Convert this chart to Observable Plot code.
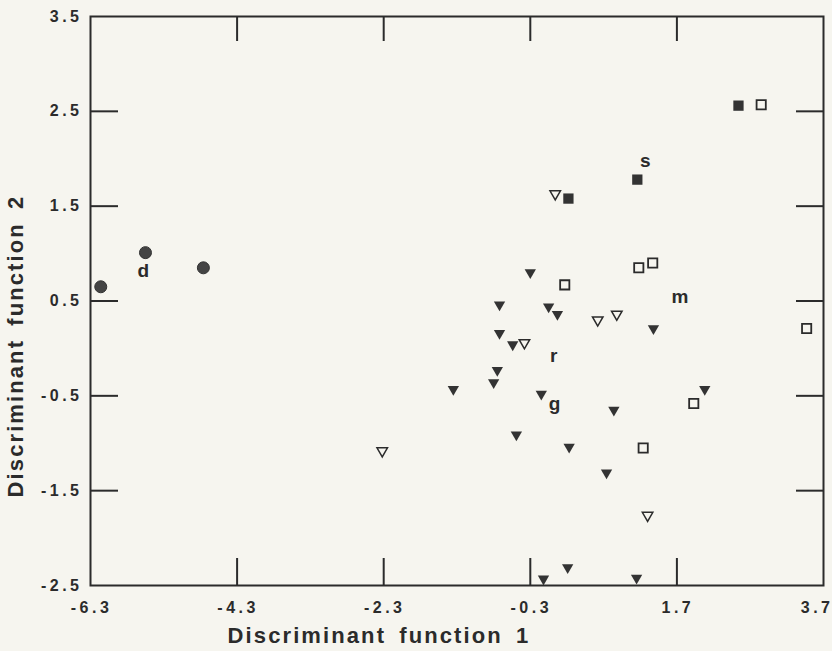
<!DOCTYPE html>
<html>
<head>
<meta charset="utf-8">
<script src="https://cdn.jsdelivr.net/npm/d3@7"></script>
<script src="https://cdn.jsdelivr.net/npm/@observablehq/plot@0.6"></script>
<style>
  html, body { margin: 0; padding: 0; background: #f6f5ef; }
  .ticklab text { letter-spacing: 3.5px; }
  .title text { letter-spacing: 2.1px; word-spacing: 5px; }
</style>
</head>
<body>
<div id="chart"></div>
<script>
// Tick values
const xTickLabels = [-6.3, -4.3, -2.3, -0.3, 1.7];
const xLastTickLabel = [3.7];
const yTickLabels = [-2.5, -1.5, -0.5, 0.5, 1.5, 2.5, 3.5];
const xInnerTicks = [-4.3, -2.3, -0.3, 1.7];
const yInnerTicks = [-1.5, -0.5, 0.5, 1.5, 2.5];

// Groups: [function1, function2]
const circles = [[-6.16, 0.65], [-5.55, 1.01], [-4.76, 0.85]];
const filledSquares = [[2.54, 2.56], [1.16, 1.78], [0.22, 1.58]];
const openSquares = [[2.85, 2.57], [1.18, 0.85], [1.37, 0.90], [0.17, 0.67], [3.47, 0.21], [1.93, -0.58], [1.24, -1.05]];
const openTriangles = [[0.04, 1.63], [0.62, 0.30], [0.88, 0.36], [-0.38, 0.06], [-2.32, -1.08], [1.30, -1.76]];
const filledTriangles = [[-0.30, 0.80], [-0.72, 0.46], [-0.05, 0.44], [0.07, 0.36], [1.38, 0.21], [-0.72, 0.16],
  [-0.54, 0.04], [-0.75, -0.23], [-0.80, -0.36], [-1.35, -0.43], [-0.15, -0.48], [2.08, -0.43], [0.84, -0.65],
  [-0.49, -0.91], [0.23, -1.04], [0.74, -1.31], [-0.12, -2.43], [0.21, -2.31], [1.15, -2.42]];
const groupLabels = ["d", "s", "m", "r", "g"];
const groupLabelX = [-5.58, 1.27, 1.74, 0.02, 0.03];
const groupLabelY = [0.82, 1.98, 0.54, -0.08, -0.59];

const ink = "#2b2b2b";
const bg = "#f6f5ef";
const font = "'Liberation Sans', Arial, Helvetica, sans-serif";

const labelData = groupLabels.map((t, i) => ({t, x: groupLabelX[i], y: groupLabelY[i]}));
const tickText = {fontSize: 16, fontWeight: "bold", fill: ink, className: "ticklab"};

const chart = Plot.plot({
  width: 832,
  height: 651,
  marginLeft: 90,
  marginRight: 9,
  marginTop: 16,
  marginBottom: 66,
  x: {domain: [-6.3, 3.7]},
  y: {domain: [-2.5, 3.5]},
  style: {background: bg, fontFamily: font, color: ink},
  marks: [
    Plot.frame({stroke: ink, strokeWidth: 2}),
    // inward tick marks on all four sides
    Plot.axisX(xInnerTicks, {anchor: "bottom", tickSize: -27, strokeWidth: 2, stroke: ink, tickFormat: () => "", label: null}),
    Plot.axisX(xInnerTicks, {anchor: "top", tickSize: -24, strokeWidth: 2, stroke: ink, tickFormat: () => "", label: null}),
    Plot.axisY(yInnerTicks, {anchor: "left", tickSize: -28, strokeWidth: 2, stroke: ink, tickFormat: () => "", label: null}),
    Plot.axisY(yInnerTicks, {anchor: "right", tickSize: -28, strokeWidth: 2, stroke: ink, tickFormat: () => "", label: null}),
    // tick labels
    Plot.text(xTickLabels, {x: d => d, frameAnchor: "bottom", dy: 27, dx: 1, text: d => d.toFixed(1), ...tickText}),
    Plot.text(xLastTickLabel, {x: d => d, frameAnchor: "bottom", dy: 27, dx: 10, textAnchor: "end", text: d => d.toFixed(1), ...tickText}),
    Plot.text(yTickLabels, {y: d => d, frameAnchor: "left", dx: -8, textAnchor: "end", text: d => d.toFixed(1), ...tickText}),
    // axis titles
    Plot.text(["Discriminant function 1"], {frameAnchor: "bottom", dx: -78, dy: 57, text: d => d,
      fontSize: 22, fontWeight: "bold", fill: ink, className: "title"}),
    Plot.text(["Discriminant function 2"], {frameAnchor: "left", textAnchor: "middle", dx: -75, dy: 45, rotate: -90, text: d => d,
      fontSize: 22, fontWeight: "bold", fill: ink, className: "title"}),
    // points
    Plot.dot(circles, {x: d => d[0], y: d => d[1], r: 6, fill: "#444", stroke: "#333", strokeWidth: 1}),
    Plot.dot(filledSquares, {x: d => d[0], y: d => d[1], symbol: "square", r: 5.8, fill: "#333", stroke: "none"}),
    Plot.dot(openSquares, {x: d => d[0], y: d => d[1], symbol: "square", r: 5.2, fill: bg, stroke: ink, strokeWidth: 1.8}),
    Plot.dot(filledTriangles, {x: d => d[0], y: d => d[1], symbol: "triangle", rotate: 180, r: 4.2, fill: "#333", stroke: "none"}),
    Plot.dot(openTriangles, {x: d => d[0], y: d => d[1], symbol: "triangle", rotate: 180, r: 3.9, fill: bg, stroke: ink, strokeWidth: 1.5}),
    // group letters
    Plot.text(labelData, {x: "x", y: "y", text: "t", fontSize: 19, fontWeight: "bold", fill: ink})
  ]
});
document.getElementById("chart").appendChild(chart);
</script>
</body>
</html>
